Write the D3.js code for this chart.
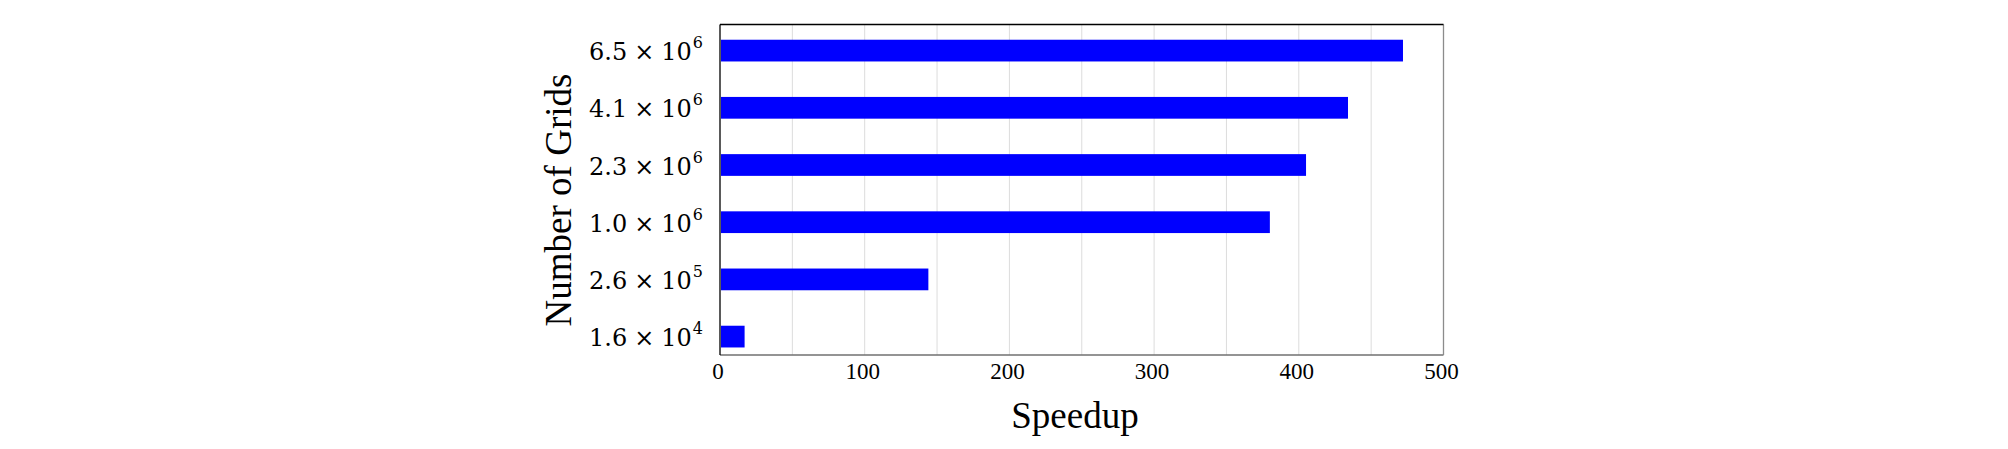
<!DOCTYPE html>
<meta charset="utf-8">
<script src="https://d3js.org/d3.v7.min.js"></script>
<style>
  body { margin: 0; background: #fff; }
  text { font-family: "Liberation Serif", "DejaVu Serif", serif; fill: #000; }
</style>
<body>
<script>

// DATA (top to bottom)

var mantissa = ['6.5', '4.1', '2.3', '1.0', '2.6', '1.6'];
var exponent = ['6', '6', '6', '6', '5', '4'];
var speedup = [472, 434, 405, 380, 144, 17];
var xTicks = [0, 100, 200, 300, 400, 500];
var gridTicks = [50, 100, 150, 200, 250, 300, 350, 400, 450];

var width = 2008;
var height = 449;

var plot = { left: 720, right: 1443.5, top: 24.5, bottom: 355 };

var svg = d3.select("body")
  .append("svg")
  .attr("width", width)
  .attr("height", height);

// SCALES

var x = d3.scaleLinear()
  .domain([0, 500])
  .range([plot.left, plot.right]);

var y = d3.scaleBand()
  .domain(d3.range(speedup.length))
  .range([22, 365.2])
  .paddingInner(0.62)
  .paddingOuter(0.31);

// GRID

svg.append("g")
  .selectAll("line")
  .data(gridTicks)
  .join("line")
    .attr("x1", d => x(d))
    .attr("x2", d => x(d))
    .attr("y1", plot.top)
    .attr("y2", plot.bottom)
    .attr("stroke", "#dcdcdc")
    .attr("stroke-width", 1);

// BARS

svg.append("g")
  .selectAll("rect")
  .data(speedup)
  .join("rect")
    .attr("x", x(0) + 1)
    .attr("y", (d, i) => y(i))
    .attr("width", d => x(d) - x(0) - 1)
    .attr("height", y.bandwidth())
    .attr("fill", "#0000ff");

// FRAME

svg.append("line")
  .attr("x1", plot.left).attr("x2", plot.right)
  .attr("y1", plot.bottom).attr("y2", plot.bottom)
  .attr("stroke", "#707070").attr("stroke-width", 1.3);
svg.append("line")
  .attr("x1", plot.right).attr("x2", plot.right)
  .attr("y1", plot.top).attr("y2", plot.bottom)
  .attr("stroke", "#8c8c8c").attr("stroke-width", 1.3);
svg.append("line")
  .attr("x1", plot.left).attr("x2", plot.right)
  .attr("y1", plot.top).attr("y2", plot.top)
  .attr("stroke", "#000").attr("stroke-width", 1.3);
svg.append("line")
  .attr("x1", plot.left).attr("x2", plot.left)
  .attr("y1", plot.top).attr("y2", plot.bottom)
  .attr("stroke", "#000").attr("stroke-width", 1.3);

// X TICK LABELS

svg.append("g")
  .selectAll("text")
  .data(xTicks)
  .join("text")
    .attr("x", d => x(d) - 2)
    .attr("y", 378.5)
    .attr("text-anchor", "middle")
    .style("font-size", "23px")
    .text(d => d);

// Y TICK LABELS (math style)

var yLabels = svg.append("g")
  .selectAll("text")
  .data(mantissa)
  .join("text")
    .attr("x", 703)
    .attr("y", (d, i) => y(i) + y.bandwidth() / 2 + 9.5)
    .attr("text-anchor", "end")
    .style("font-family", "'DejaVu Serif', serif")
    .style("font-size", "24px");

yLabels.append("tspan").text(d => d);
yLabels.append("tspan").attr("dx", 7).text("\u00d7");
yLabels.append("tspan").attr("dx", 7).text("10");
yLabels.append("tspan")
  .attr("dy", -12)
  .attr("dx", 1)
  .style("font-size", "16px")
  .text((d, i) => exponent[i]);

// AXIS TITLES

svg.append("text")
  .attr("x", 1075)
  .attr("y", 428)
  .attr("text-anchor", "middle")
  .style("font-size", "37px")
  .text("Speedup");

svg.append("text")
  .attr("transform", "translate(571,200)rotate(-90)")
  .attr("text-anchor", "middle")
  .style("font-size", "37px")
  .text("Number of Grids");

</script>
</body>
